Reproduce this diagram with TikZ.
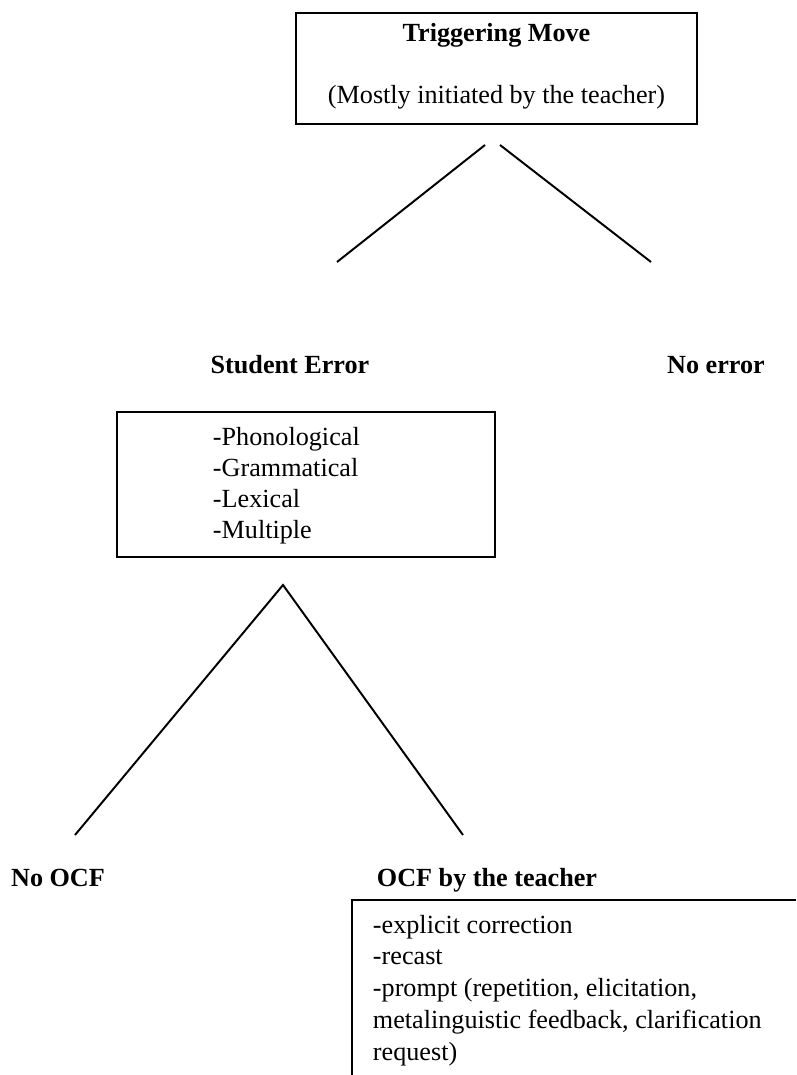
\documentclass[tikz,border=0pt]{standalone}
\usepackage{fontspec}
\setmainfont{Liberation Serif}
\usepackage{tikz}

\newcommand{\twelve}{\fontsize{12}{14.2}\selectfont}

\tikzset{
    box/.style={draw, line width=0.9pt, inner sep=0pt},
    lbl/.style={font=\twelve\bfseries, inner sep=0pt, anchor=base},
    item/.style={font=\twelve, align=left, anchor=north west, inner sep=0pt}
}

\begin{document}
\begin{tikzpicture}[x=0.4587pt, y=-0.4587pt, line width=0.9pt]
    \useasboundingbox (0,0) rectangle (796,1075);
    % top box
    \node[box, minimum width=184pt, minimum height=51pt] (trig) at (496.5,68.5) {};
    \node[lbl] (trigT) at (496.5,42) {Triggering Move};
    \node[font=\twelve, inner sep=0pt, anchor=base] (trigS) at (496.5,104) {(Mostly initiated by the teacher)};
    \coordinate (t1) at (485,145);
    \coordinate (t2) at (500,145);
    \coordinate (e1) at (337,262);
    \coordinate (e2) at (651,262);
    \draw (t1) -- (e1);
    \draw (t2) -- (e2);
    % second level
    \node[lbl] (err) at (290,374) {Student Error};
    \node[lbl] (noerr) at (716,374) {No error};
    \node[box, minimum width=173.4pt, minimum height=66.5pt] (errbox) at (306,484.5) {};
    \node[item] (types) at (212,426) {-Phonological\\-Grammatical\\-Lexical\\-Multiple};
    \coordinate (a) at (283,585);
    \coordinate (b1) at (75,835);
    \coordinate (b2) at (463,835);
    \draw (b1) -- (a) -- (b2);
    % third level
    \node[lbl] (noocf) at (58,886) {No OCF};
    \node[lbl] (ocf) at (487,886) {OCF by the teacher};
    \draw (796,900) -- (352,900) -- (352,1075);
    \node[item, font=\fontsize{12}{14.55}\selectfont] (kinds) at (372,914) {-explicit correction\\-recast\\-prompt (repetition, elicitation,\\metalinguistic feedback, clarification\\request)};
\end{tikzpicture}
\end{document}
